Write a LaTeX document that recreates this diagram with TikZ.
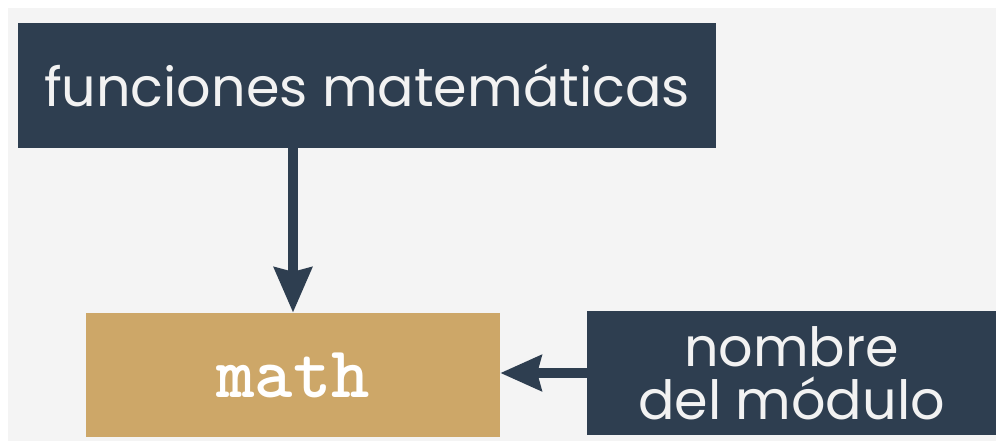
\documentclass[tikz,border=0pt]{standalone}
\usepackage{fontspec}
\setmainfont{Poppins}
\usetikzlibrary{arrows.meta}
\definecolor{navy}{HTML}{2E3E50}
\definecolor{gold}{HTML}{CDA768}
\definecolor{bggray}{HTML}{F4F4F4}
\definecolor{txtwhite}{HTML}{F2F2F2}
\tikzset{
  darkbox/.style={fill=navy, draw=none, text=txtwhite, inner sep=0pt, align=center,
    font=\fontsize{54}{53}\selectfont},
  goldbox/.style={fill=gold, draw=none, text=white, inner sep=0pt,
    font=\ttfamily\bfseries\fontsize{73}{73}\selectfont},
  conn/.style={draw=navy, line width=10pt},
}
\begin{document}
\begin{tikzpicture}[x=1pt,y=-1pt]
  \useasboundingbox[fill=white] (0,0) rectangle (996,445);
  \fill[bggray] (8,8) rectangle (996,441);
  \node[darkbox, minimum width=698pt, minimum height=125pt] (top) at (367,85.5) {funciones matemáticas};
  \node[goldbox, minimum width=414pt, minimum height=124pt] (math) at (293,375) {math};
  \node[darkbox, minimum width=409pt, minimum height=124pt] (name) at (791.5,373) {nombre\\del módulo};
  \draw[conn, -{Stealth[length=45pt,width=37pt,inset=4pt]}] (math.north |- top.south) -- (math.north);
  \draw[conn, -{Stealth[length=41pt,width=35pt,inset=4pt]}] (name.west) -- (name.west -| math.east);
\end{tikzpicture}
\end{document}
